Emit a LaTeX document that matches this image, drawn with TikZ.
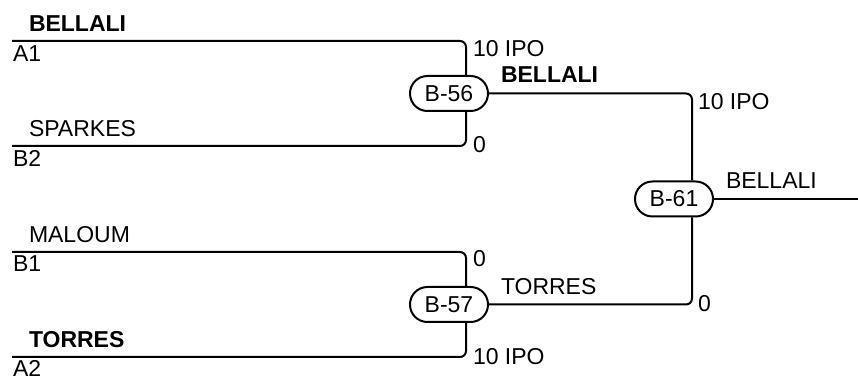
\documentclass[tikz,border=0pt]{standalone}
\usepackage{fontspec}
\setmainfont{Liberation Sans}
\usepackage{tikz}
\usetikzlibrary{positioning}
\newcommand{\win}[1]{\textbf{#1}}

\begin{document}
\begin{tikzpicture}[x=0.5pt, y=-0.5pt, line width=1pt,
    every node/.style={font=\fontsize{11.5}{13}\selectfont},
    match/.style={draw, rounded corners=8.7pt, minimum width=39pt,
        minimum height=17.5pt, inner sep=0pt},
    lbl/.style={anchor=base west, inner sep=0pt}]
                            \useasboundingbox (0, 0) rectangle (858, 379);
                            % slots and joins
                            \coordinate (a1) at (12, 41);
                            \coordinate (b2) at (12, 146);
                            \coordinate (b1) at (12, 252);
                            \coordinate (a2) at (12, 357);
                            \coordinate (j56) at (466, 93.5);
                            \coordinate (j57) at (466, 304.5);
                            \coordinate (j61) at (692, 199);
                            \coordinate (out) at (858, 199);
                            % matches
                            \node[match] (m56) at (449, 93.5) {B-56};
                            \node[match] (m57) at (449, 304.5) {B-57};
                            \node[match] (m61) at (674, 199) {B-61};
                            % players
                            \node[lbl] (p1) at (28, 32) {\win{BELLALI}};
                            \node[lbl] (s1) at (12, 62) {A1};
                            \node[lbl] (p2) at (28, 137) {SPARKES};
                            \node[lbl] (s2) at (12, 167) {B2};
                            \node[lbl] (p3) at (28, 243) {MALOUM};
                            \node[lbl] (s3) at (12, 272) {B1};
                            \node[lbl] (p4) at (28, 348) {\win{TORRES}};
                            \node[lbl] (s4) at (12, 377) {A2};
                            \node[lbl] (w56) at (500, 83) {\win{BELLALI}};
                            \node[lbl] (w57) at (500, 295) {TORRES};
                            \node[lbl] (w61) at (725, 189) {BELLALI};
                            % scores
                            \node[lbl] (r1) at (472, 57) {10 IPO};
                            \node[lbl] (r2) at (472, 153) {0};
                            \node[lbl] (r3) at (472, 267) {0};
                            \node[lbl] (r4) at (472, 365) {10 IPO};
                            \node[lbl] (r5) at (697, 110) {10 IPO};
                            \node[lbl] (r6) at (697, 312) {0};
                            \draw[rounded corners=3pt]
                            (a1) -| (j56 |- m56.north)
                            (b2) -| (j56 |- m56.south)
                            (b1) -| (j57 |- m57.north)
                            (a2) -| (j57 |- m57.south)
                            (m56.east) -| (j61 |- m61.north)
                            (m57.east) -| (j61 |- m61.south);
                            \draw (m61.east) -- (out);
                        \end{tikzpicture}
\end{document}
